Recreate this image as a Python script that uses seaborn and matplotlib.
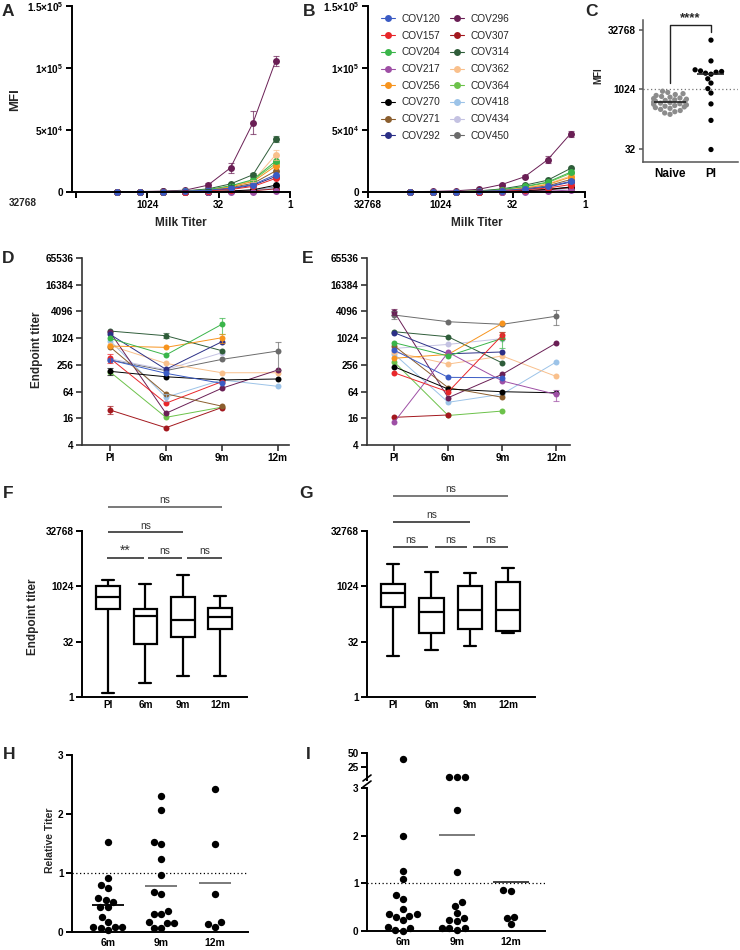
import numpy as np
import pandas as pd
import matplotlib
matplotlib.use("Agg")
import matplotlib.pyplot as plt
from matplotlib.lines import Line2D
import seaborn as sns

sns.set_theme(style="ticks")
plt.rcParams["font.family"] = ["Liberation Sans", "DejaVu Sans"]
plt.rcParams["font.weight"] = "bold"
plt.rcParams["axes.labelweight"] = "bold"
plt.rcParams["mathtext.fontset"] = "custom"
plt.rcParams["mathtext.rm"] = "Liberation Sans:bold"
plt.rcParams["mathtext.bf"] = "Liberation Sans:bold"
plt.rcParams["mathtext.default"] = "rm"

# ---------------- data ----------------
subjects = ["COV120", "COV157", "COV204", "COV217", "COV256", "COV270", "COV271", "COV292",
            "COV296", "COV307", "COV314", "COV362", "COV364", "COV418", "COV434", "COV450"]
colors = ["#3B5BC4", "#E8262A", "#3AB54A", "#9E4FA5", "#F7941E", "#000000", "#8B5E2E", "#2B2F86",
          "#6A1F55", "#A3181E", "#2F5D3A", "#F9C08C", "#6CC24A", "#9CC3E8", "#C4C2E2", "#6B6B6B"]

dilutions = [4374, 1458, 486, 162, 54, 18, 6, 2]
mfi_a = {
    "COV120": [100, 150, 300, 700, 1500, 3000, 6000, 14000],
    "COV157": [50, 100, 200, 400, 1000, 2000, 4500, 11000],
    "COV204": [150, 200, 400, 700, 2000, 5000, 10000, 25000],
    "COV217": [50, 50, 50, 50, 100, 150, 200, 500],
    "COV256": [100, 200, 300, 600, 1500, 4000, 8500, 21000],
    "COV270": [50, 50, 100, 200, 400, 800, 1800, 5500],
    "COV271": [100, 150, 250, 500, 1200, 3500, 7000, 17000],
    "COV292": [100, 150, 250, 500, 1200, 2500, 5500, 12500],
    "COV296": [300, 400, 700, 1500, 5500, 19500, 56000, 106000],
    "COV307": [50, 50, 100, 150, 300, 500, 1000, 2500],
    "COV314": [200, 300, 500, 900, 2500, 6500, 14000, 43000],
    "COV362": [100, 200, 400, 800, 2000, 4500, 9000, 30000],
    "COV364": [100, 200, 300, 600, 1800, 4500, 9500, 23000],
    "COV418": [50, 50, 100, 150, 300, 600, 1200, 3000],
    "COV434": [50, 50, 100, 150, 300, 700, 1500, 3500],
    "COV450": [50, 50, 100, 200, 400, 800, 1500, 4000],
}
err_a = {
    "COV296": [0, 0, 0, 200, 1500, 4000, 9000, 4000],
    "COV314": [0, 0, 0, 0, 300, 800, 1500, 2500],
    "COV362": [0, 0, 0, 0, 0, 0, 1000, 4000],
}
mfi_b = {
    "COV120": [100, 150, 250, 500, 1200, 2500, 4500, 8500],
    "COV157": [50, 100, 200, 400, 900, 1800, 3200, 6000],
    "COV204": [100, 200, 300, 700, 2000, 4500, 8000, 16000],
    "COV217": [50, 50, 50, 100, 200, 400, 700, 1500],
    "COV256": [100, 150, 300, 600, 1500, 3000, 6000, 12000],
    "COV270": [50, 50, 100, 200, 500, 1000, 2000, 4000],
    "COV271": [100, 150, 250, 500, 1200, 2500, 5000, 10000],
    "COV292": [50, 100, 200, 400, 1000, 2000, 4000, 8000],
    "COV296": [300, 500, 1000, 2200, 6000, 12300, 26000, 47000],
    "COV307": [50, 50, 100, 200, 400, 900, 1800, 3500],
    "COV314": [100, 200, 400, 900, 2500, 5500, 9500, 19000],
    "COV362": [100, 150, 300, 600, 1500, 3500, 6500, 13000],
    "COV364": [100, 200, 300, 700, 1800, 4000, 7500, 15000],
    "COV418": [50, 50, 100, 200, 400, 800, 1500, 3000],
    "COV434": [50, 50, 100, 200, 400, 800, 1500, 3000],
    "COV450": [50, 50, 100, 200, 500, 1000, 2000, 4000],
}
err_b = {
    "COV296": [0, 0, 0, 200, 800, 1200, 3000, 2500],
}
mfi_xticks = [32768, 1024, 32, 1]
mfi_yticks = [0, 5e4, 1e5, 1.5e5]
mfi_ylabels = ["0", "5×10$^{4}$", "1×10$^{5}$", "1.5×10$^{5}$"]

naive_mfi = [920, 860, 800, 760, 720, 680, 650, 620, 600, 580, 560, 540, 520, 505, 490,
             475, 460, 445, 430, 415, 400, 385, 370, 355, 340, 320, 300, 280, 260, 240]
pi_mfi = [18000, 5370, 3200, 3000, 2900, 2790, 2630, 2480, 1900, 1480, 1070, 830, 440, 169, 31]
mfi_threshold = 1060

times = ["PI", "6m", "9m", "12m"]
nan = np.nan
titer_d = {
    "COV120": [330, 165, 98, nan],
    "COV157": [360, 35, 107, nan],
    "COV204": [1010, 427, 2100, nan],
    "COV217": [nan, nan, nan, nan],
    "COV256": [680, 635, 1045, nan],
    "COV270": [183, 138, 117, 123],
    "COV271": [650, 57, 30, nan],
    "COV292": [1250, 203, 850, nan],
    "COV296": [1400, 20.7, 76, 196],
    "COV307": [24.6, 9.8, 28, nan],
    "COV314": [1480, 1160, 534, nan],
    "COV362": [700, 276, 170, 170],
    "COV364": [178, 16.8, 28.5, nan],
    "COV418": [900, 47.6, 117, 84],
    "COV434": [350, 200, 480, nan],
    "COV450": [330, 190, 340, 525],
}
err_d = [("COV204", 2, 800), ("COV450", 3, 330), ("COV314", 1, 150), ("COV256", 2, 250),
         ("COV307", 0, 5), ("COV270", 0, 35), ("COV157", 0, 80), ("COV418", 1, 8)]
titer_e = {
    "COV120": [550, 134, 131, nan],
    "COV157": [170, 63, 1200, nan],
    "COV204": [810, 405, 1015, nan],
    "COV217": [13, 490, 111, 55],
    "COV256": [360, 440, 2210, nan],
    "COV270": [233, 73, 63.5, 60],
    "COV271": [690, 78, 47.6, nan],
    "COV292": [1360, 454, 500, nan],
    "COV296": [4040, 46.6, 157, 800],
    "COV307": [16.8, 19, nan, nan],
    "COV314": [1430, 1100, 282, nan],
    "COV362": [500, 267, 405, 140],
    "COV364": [300, 18.5, 23.3, nan],
    "COV418": [450, 36.7, 56, 300],
    "COV434": [600, 740, 1000, nan],
    "COV450": [3400, 2400, 2100, 3200],
}
err_e = [("COV450", 0, 700), ("COV450", 3, 1200), ("COV296", 0, 600), ("COV217", 3, 15),
         ("COV204", 2, 400), ("COV157", 2, 200)]
titer_yticks = [4, 16, 64, 256, 1024, 4096, 16384, 65536]

# five-number summaries (min, q1, median, q3, max)
f_min = [1.3, 2.4, 3.7, 3.8]
f_q1 = [240, 27, 44, 70]
f_med = [530, 159, 124, 152]
f_q3 = [1070, 250, 520, 267]
f_max = [1550, 1210, 2120, 550]
g_min = [13, 19, 24, 56]
g_q1 = [278, 56, 70, 62]
g_med = [680, 208, 230, 230]
g_q3 = [1190, 488, 1024, 1340]
g_max = [4200, 2500, 2350, 3200]
box_yticks = [1, 32, 1024, 32768]

h_times = ["6m", "9m", "12m"]
h_6m = [1.53, 0.91, 0.79, 0.75, 0.57, 0.54, 0.51, 0.42, 0.42, 0.26, 0.17, 0.09, 0.09, 0.09, 0.07, 0.03]
h_9m = [2.31, 2.07, 1.53, 1.50, 1.24, 0.97, 0.68, 0.64, 0.36, 0.30, 0.30, 0.17, 0.15, 0.15, 0.07, 0.06]
h_12m = [2.43, 1.50, 0.65, 0.17, 0.09, 0.14]
i_6m = [40, 2.0, 1.26, 1.10, 0.75, 0.68, 0.46, 0.35, 0.23, 0.30, 0.32, 0.35, 0.03, 0.06, 0.09, 0.01]
i_9m = [8.3, 7.9, 7.9, 2.53, 1.24, 0.60, 0.52, 0.37, 0.23, 0.27, 0.20, 0.03, 0.07, 0.06, 0.06]
i_12m = [0.14, 0.27, 0.84, 0.30, 0.86]
i_means = [nan, 2.02, 1.03]   # group means as drawn (6m mean falls inside the axis break)

palette = dict(zip(subjects, colors))

# ---------------- helpers ----------------
W, H = 740, 950
fig = plt.figure(figsize=(7.4, 9.5), dpi=100)


def add_ax(l, t, r, b):
    return fig.add_axes([l / W, 1 - b / H, (r - l) / W, (b - t) / H])


def ftext(x, y, s, **kw):
    fig.text(x / W, 1 - y / H, s, **kw)


def style(ax, lw=1.4, color="black", xlen=4, ylen=4):
    sns.despine(ax=ax)
    for s in ("left", "bottom"):
        ax.spines[s].set_linewidth(lw)
        ax.spines[s].set_color(color)
    ax.tick_params(axis="both", width=lw, color=color, labelsize=7.2, pad=2, labelcolor="black")
    ax.tick_params(axis="x", length=xlen)
    ax.tick_params(axis="y", length=ylen)
    ax.minorticks_off()
    ax.set_xlabel("")
    ax.set_ylabel("")
    ax.grid(False)


def mfi_panel(ax, data, errs, left):
    rows = [(s, d, v) for s in subjects for d, v in zip(dilutions, data[s])]
    df = pd.DataFrame(rows, columns=["subject", "dilution", "mfi"])
    ax.set_xscale("log", base=2)
    sns.lineplot(data=df, x="dilution", y="mfi", hue="subject", hue_order=subjects[::-1],
                 palette=palette, marker="o", markersize=5, markeredgewidth=0, linewidth=0.7,
                 legend=False, estimator=None, ax=ax, clip_on=False)
    for s, e in errs.items():
        idx = [i for i, v in enumerate(e) if v > 0]
        ax.errorbar([dilutions[i] for i in idx], [data[s][i] for i in idx],
                    yerr=[e[i] for i in idx], fmt="none", ecolor=palette[s], alpha=0.7,
                    elinewidth=0.8, capsize=2.5, capthick=0.8)
    ax.set_xlim(left, 1)
    ax.set_ylim(0, 1.5e5)
    style(ax)
    ax.set_xticks(mfi_xticks)
    ax.set_xticklabels([str(v) for v in mfi_xticks])
    ax.set_yticks(mfi_yticks)
    ax.set_yticklabels(mfi_ylabels)
    ax.minorticks_off()


def titer_panel(ax, data, errs, xmax):
    rows = [(s, i, v) for s in subjects for i, v in enumerate(data[s]) if not np.isnan(v)]
    df = pd.DataFrame(rows, columns=["subject", "t", "titer"])
    ax.set_yscale("log", base=2)
    sns.lineplot(data=df, x="t", y="titer", hue="subject", hue_order=subjects[::-1],
                 palette=palette, marker="o", markersize=4.3, markeredgewidth=0, linewidth=0.7,
                 legend=False, estimator=None, ax=ax)
    for s, i, e in errs:
        ax.errorbar([i], [data[s][i]], yerr=[e], fmt="none", ecolor=palette[s], alpha=0.7,
                    elinewidth=0.8, capsize=2.5, capthick=0.8)
    ax.set_ylim(4, 65536)
    ax.set_xlim(-0.5, xmax)
    style(ax, lw=1.2, color="#333333")
    ax.set_yticks(titer_yticks)
    ax.set_yticklabels([str(v) for v in titer_yticks])
    ax.set_xticks(range(4))
    ax.set_xticklabels(times)
    ax.minorticks_off()


def box_panel(ax, mins, q1, med, q3, maxs, xlim):
    rows = []
    for i, t in enumerate(times):
        for v in (mins[i], q1[i], med[i], q3[i], maxs[i]):
            rows.append((t, v))
    df = pd.DataFrame(rows, columns=["time", "titer"])
    sns.boxplot(data=df, x="time", y="titer", order=times, whis=(0, 100), width=0.64,
                color="white", linecolor="black", linewidth=1.6, log_scale=2, ax=ax)
    ax.set_ylim(1, 32768)
    ax.set_xlim(*xlim)
    style(ax, xlen=0)
    ax.set_yticks(box_yticks)
    ax.set_yticklabels([str(v) for v in box_yticks])
    ax.minorticks_off()


def brackets(ax, segs, labels, ys, colors_):
    for (x0, x1), lab, y, c in zip(segs, labels, ys, colors_):
        ax.plot([x0, x1], [y, y], color=c, lw=1.1, clip_on=False, solid_capstyle="butt")
        star = lab.startswith("*")
        ax.text((x0 + x1) / 2, y * (1.02 if star else 1.12), lab, ha="center", va="bottom",
                fontsize=10 if star else 7.3, fontweight="normal", color="#333333", clip_on=False)


# ---------------- panel A ----------------
axA = add_ax(72, 6, 290, 192)
mfi_panel(axA, mfi_a, err_a, 2 ** 15.28)
axA.set_xticklabels([""] + [str(v) for v in mfi_xticks[1:]])
ftext(23, 203, "32768", ha="center", va="center", fontsize=7.2)

# ---------------- panel B ----------------
axB = add_ax(368, 6, 585, 192)
mfi_panel(axB, mfi_b, err_b, 32768)
handles = [Line2D([0], [0], color=palette[s], marker="o", markersize=5, markeredgewidth=0, lw=0.8)
           for s in subjects]
fig.legend(handles, subjects, ncol=2, loc="upper left", bbox_to_anchor=(381 / W, 1 - 14 / H),
           frameon=False, prop={"size": 7.3, "weight": "normal"}, handlelength=1.4,
           handletextpad=0.6, columnspacing=1.0, labelspacing=0.66, borderpad=0, borderaxespad=0)

for x in (181, 477):
    ftext(x, 223, "Milk Titer", ha="center", va="center", fontsize=8.5)
ftext(15, 100, "MFI", ha="center", va="center", rotation=90, fontsize=9.5)

# ---------------- panel C ----------------
axC = add_ax(643, 20, 738, 162)
dfC = pd.DataFrame({"group": ["Naive"] * len(naive_mfi) + ["PI"] * len(pi_mfi),
                    "mfi": naive_mfi + pi_mfi})
sns.swarmplot(data=dfC, x="group", y="mfi", hue="group", order=["Naive", "PI"],
              palette={"Naive": "#8c8c8c", "PI": "black"}, size=3.8, log_scale=2,
              legend=False, ax=axC)
axC.set_ylim(15, 58000)
axC.set_xlim(-0.66, 1.66)
style(axC, lw=1.1, color="#555555", xlen=0, ylen=3)
axC.set_yticks([32, 1024, 32768])
axC.set_yticklabels(["32", "1024", "32768"])
axC.minorticks_off()
axC.tick_params(axis="x", labelsize=8.5, pad=4)
axC.axhline(mfi_threshold, ls=(0, (1, 2)), color="#777777", lw=0.9)
axC.hlines(np.median(naive_mfi), -0.38, 0.38, color="#222222", lw=1.2, zorder=5)
axC.hlines(np.median(pi_mfi), 1 - 0.33, 1 + 0.33, color="#222222", lw=1.2, zorder=5)
axC.plot([0, 0, 1, 1], [1450, 43700, 43700, 29200], color="#222222", lw=1.0, clip_on=False)
axC.text(0.5, 46000, "****", ha="center", va="bottom", fontsize=9.5, clip_on=False)
ftext(598, 76, "MFI", ha="center", va="center", rotation=90, fontsize=7)

# ---------------- panels D, E ----------------
axD = add_ax(82, 258, 289, 445)
titer_panel(axD, titer_d, err_d, 3.2)
axE = add_ax(367, 258, 570, 445)
titer_panel(axE, titer_e, err_e, 3.25)
ftext(37, 350, "Endpoint titer", ha="center", va="center", rotation=90, fontsize=8.5)

# ---------------- panels F, G ----------------
axF = add_ax(82, 531, 247, 697)
box_panel(axF, f_min, f_q1, f_med, f_q3, f_max, (-0.7, 3.72))
brackets(axF, [(0, 3.05), (0, 2.0), (-0.02, 0.95), (1.08, 1.97), (2.12, 3.06)],
         ["ns", "ns", "**", "ns", "ns"], [147000, 30100, 6000, 6000, 6000],
         ["#555555", "#222222", "#222222", "#222222", "#222222"])
ftext(33, 617, "Endpoint titer", ha="center", va="center", rotation=90, fontsize=8.5)

axG = add_ax(367, 531, 535, 697)
box_panel(axG, g_min, g_q1, g_med, g_q3, g_max, (-0.68, 3.7))
brackets(axG, [(0, 3.0), (0, 2.0), (0, 0.91), (1.08, 1.93), (2.09, 3.0)],
         ["ns", "ns", "ns", "ns", "ns"], [293000, 58300, 11850, 11850, 11850],
         ["#555555", "#222222", "#222222", "#222222", "#222222"])

# ---------------- panel H ----------------
axH = add_ax(72, 755, 248, 932)
dfH = pd.DataFrame({"time": ["6m"] * len(h_6m) + ["9m"] * len(h_9m) + ["12m"] * len(h_12m),
                    "rel": h_6m + h_9m + h_12m})
sns.swarmplot(data=dfH, x="time", y="rel", order=h_times, color="black", size=5.3, ax=axH)
for c in axH.collections:
    c.set_clip_on(False)
axH.set_ylim(0, 3)
axH.set_xlim(-0.67, 2.62)
style(axH, xlen=0)
axH.set_yticks([0, 1, 2, 3])
axH.axhline(1, ls=(0, (1, 2)), color="black", lw=0.9)
for i, (vals, c) in enumerate(zip([h_6m, h_9m, h_12m], ["black", "#707070", "#707070"])):
    axH.hlines(np.mean(vals), i - 0.3, i + 0.3, color=c, lw=1.3, zorder=1)
axH.tick_params(axis="x", labelsize=7.5, pad=4)
ftext(50, 840, "Relative Titer", ha="center", va="center", rotation=90, fontsize=7.5)

# ---------------- panel I (broken axis) ----------------
axIu = add_ax(367, 753, 545, 780)
axIl = add_ax(367, 788, 545, 931)
dfI = pd.DataFrame({"time": ["6m"] * len(i_6m) + ["9m"] * len(i_9m) + ["12m"] * len(i_12m),
                    "rel": i_6m + i_9m + i_12m})
low = dfI[dfI["rel"] <= 3]
high = dfI[dfI["rel"] > 3]
sns.swarmplot(data=low, x="time", y="rel", order=h_times, color="black", size=5.3, ax=axIl)
sns.swarmplot(data=high, x="time", y="rel", order=h_times, color="black", size=5.3, ax=axIu)
for ax in (axIl, axIu):
    for c in ax.collections:
        c.set_clip_on(False)
axIl.set_ylim(0, 3)
axIl.set_xlim(-0.667, 2.63)
style(axIl, xlen=0)
axIl.set_yticks([0, 1, 2, 3])
axIl.axhline(1, ls=(0, (1, 2)), color="black", lw=0.9)
axIl.tick_params(axis="x", labelsize=7.5, pad=4)
for i, (m, c) in enumerate(zip(i_means, ["black", "#707070", "#333333"])):
    if not np.isnan(m):
        axIl.hlines(m, i - 0.33, i + 0.33, color=c, lw=1.3, zorder=1)
axIu.set_ylim(3, 50)
axIu.set_xlim(-0.667, 2.63)
style(axIu)
axIu.spines["bottom"].set_visible(False)
axIu.set_xticks([])
axIu.set_yticks([25, 50])
# break marks
for yb in (778, 784):
    fig.add_artist(Line2D([363 / W, 371 / W], [1 - (yb + 3) / H, 1 - (yb - 3) / H],
                          color="black", lw=1.2))

# ---------------- panel letters ----------------
for lab, x, y in [("A", 2, 4), ("B", 303, 4), ("C", 585, 4), ("D", 2, 251), ("E", 302, 251),
                  ("F", 3, 486), ("G", 299, 486), ("H", 3, 747), ("I", 306, 747)]:
    ftext(x, y, lab, ha="left", va="top", fontsize=12.5, fontweight="bold")

fig.savefig("out.png", dpi=100)
